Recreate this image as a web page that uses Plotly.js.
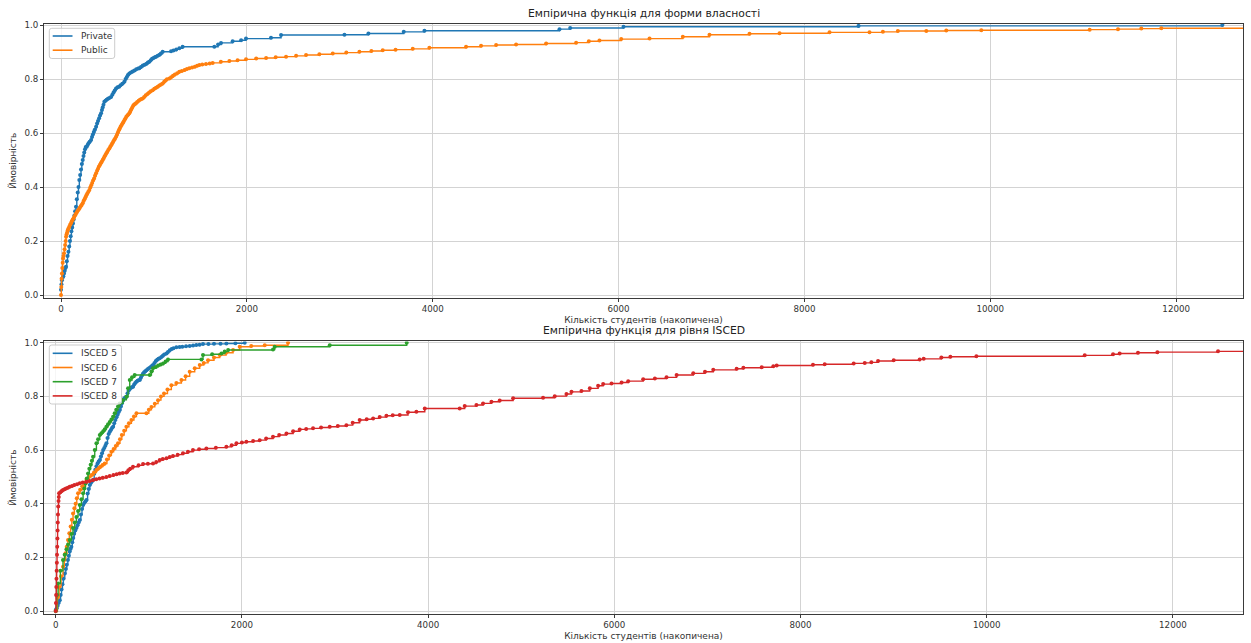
<!DOCTYPE html>
<html>
<head>
<meta charset="utf-8">
<script src="https://cdn.plot.ly/plotly-3.0.1.min.js"></script>
<style>html,body{margin:0;padding:0;background:#fff;}#chart{width:1251px;height:643px;}</style>
</head>
<body>
<div id="chart"></div>
<script>
// ---- Data (student counts, cumulative probability) ----
const privateX = [0, 5, 10, 18, 25, 32, 40, 48, 54, 62, 70, 80, 88, 96, 104, 112, 120, 128, 136, 144, 152, 161, 170, 180, 188, 197, 206, 215, 224, 233, 242, 250, 258, 266, 276, 286, 296, 308, 323, 333, 343, 353, 363, 377, 388, 398, 410, 420, 431, 440, 448, 457, 466, 478, 490, 505, 520, 538, 552, 565, 578, 592, 608, 625, 640, 660, 681, 695, 708, 720, 735, 752, 770, 790, 810, 830, 843, 860, 880, 900, 920, 935, 950, 965, 980, 995, 1010, 1022, 1040, 1060, 1075, 1094, 1184, 1210, 1240, 1273, 1309, 1650, 1690, 1722, 1847, 1938, 1991, 2260, 2368, 3050, 3308, 3688, 3911, 5364, 5479, 6053, 8582, 12497];
const privateP = [0.02, 0.04, 0.055, 0.065, 0.07, 0.08, 0.09, 0.1, 0.105, 0.125, 0.145, 0.16, 0.18, 0.2, 0.218, 0.236, 0.25, 0.265, 0.28, 0.295, 0.31, 0.327, 0.355, 0.38, 0.4, 0.426, 0.445, 0.465, 0.485, 0.5, 0.515, 0.528, 0.54, 0.548, 0.549, 0.556, 0.562, 0.568, 0.574, 0.585, 0.595, 0.604, 0.612, 0.623, 0.635, 0.645, 0.655, 0.665, 0.673, 0.685, 0.695, 0.705, 0.716, 0.72, 0.723, 0.727, 0.73, 0.734, 0.742, 0.75, 0.758, 0.765, 0.77, 0.772, 0.777, 0.783, 0.79, 0.8, 0.808, 0.815, 0.821, 0.824, 0.828, 0.832, 0.836, 0.839, 0.84, 0.845, 0.85, 0.853, 0.857, 0.861, 0.864, 0.87, 0.875, 0.878, 0.881, 0.883, 0.886, 0.89, 0.895, 0.901, 0.903, 0.906, 0.91, 0.914, 0.92, 0.92, 0.928, 0.934, 0.94, 0.944, 0.95, 0.953, 0.963, 0.964, 0.969, 0.975, 0.979, 0.985, 0.989, 0.994, 0.997, 1.0];

const publicX = [0, 3, 6, 10, 14, 18, 22, 27, 32, 38, 44, 50, 54, 60, 66, 72, 80, 89, 98, 107, 116, 125, 134, 143, 152, 162, 172, 182, 192, 202, 212, 222, 233, 243, 253, 263, 273, 283, 294, 305, 315, 325, 335, 345, 356, 366, 377, 388, 398, 408, 418, 428, 438, 448, 458, 468, 478, 488, 498, 508, 520, 530, 540, 550, 560, 570, 580, 592, 602, 612, 622, 632, 642, 652, 663, 673, 683, 693, 703, 714, 724, 735, 745, 755, 765, 775, 785, 796, 807, 820, 835, 850, 865, 878, 895, 912, 930, 948, 966, 986, 1004, 1022, 1040, 1058, 1076, 1094, 1110, 1125, 1140, 1166, 1185, 1205, 1225, 1250, 1273, 1300, 1330, 1355, 1381, 1410, 1440, 1465, 1489, 1520, 1560, 1600, 1632, 1720, 1812, 1900, 1991, 2100, 2207, 2310, 2422, 2530, 2637, 2780, 2924, 3070, 3211, 3340, 3462, 3600, 3785, 3964, 4359, 4520, 4682, 4897, 5220, 5543, 5680, 5794, 6028, 6333, 6691, 6978, 7409, 7732, 8270, 8700, 8844, 9005, 9311, 9526, 9903, 11069, 11374, 11625, 11840, 13500];
const publicP = [0.0, 0.03, 0.06, 0.08, 0.1, 0.12, 0.135, 0.145, 0.155, 0.17, 0.185, 0.2, 0.216, 0.225, 0.232, 0.24, 0.247, 0.253, 0.26, 0.266, 0.273, 0.279, 0.284, 0.29, 0.296, 0.302, 0.308, 0.313, 0.318, 0.323, 0.329, 0.334, 0.34, 0.348, 0.355, 0.362, 0.37, 0.376, 0.383, 0.389, 0.398, 0.407, 0.415, 0.424, 0.432, 0.442, 0.451, 0.46, 0.468, 0.476, 0.482, 0.488, 0.494, 0.5, 0.506, 0.513, 0.519, 0.525, 0.531, 0.537, 0.543, 0.549, 0.555, 0.561, 0.567, 0.573, 0.579, 0.586, 0.594, 0.602, 0.61, 0.617, 0.624, 0.63, 0.636, 0.642, 0.648, 0.654, 0.66, 0.665, 0.669, 0.673, 0.68, 0.687, 0.694, 0.7, 0.705, 0.708, 0.71, 0.715, 0.72, 0.723, 0.726, 0.728, 0.734, 0.74, 0.745, 0.75, 0.755, 0.759, 0.764, 0.768, 0.772, 0.776, 0.78, 0.784, 0.79, 0.795, 0.799, 0.802, 0.807, 0.812, 0.817, 0.822, 0.827, 0.83, 0.834, 0.837, 0.84, 0.843, 0.846, 0.849, 0.852, 0.854, 0.856, 0.858, 0.86, 0.864, 0.867, 0.87, 0.873, 0.876, 0.878, 0.881, 0.883, 0.886, 0.889, 0.892, 0.895, 0.898, 0.901, 0.904, 0.907, 0.909, 0.912, 0.916, 0.92, 0.923, 0.926, 0.928, 0.932, 0.935, 0.94, 0.943, 0.948, 0.95, 0.957, 0.964, 0.968, 0.97, 0.973, 0.973, 0.975, 0.978, 0.978, 0.98, 0.981, 0.983, 0.985, 0.987, 0.988, 0.99];

const isced5X = [0, 10, 20, 30, 43, 52, 62, 72, 82, 97, 108, 118, 130, 140, 150, 160, 168, 178, 188, 198, 210, 222, 234, 246, 258, 270, 282, 294, 306, 318, 330, 342, 354, 366, 378, 390, 401, 413, 425, 437, 449, 461, 473, 485, 497, 509, 521, 533, 544, 556, 568, 580, 592, 604, 616, 628, 640, 652, 664, 676, 687, 699, 711, 723, 735, 747, 759, 771, 783, 795, 807, 818, 830, 842, 854, 866, 878, 890, 902, 914, 926, 938, 950, 962, 974, 990, 1005, 1020, 1035, 1045, 1060, 1075, 1090, 1104, 1117, 1135, 1150, 1165, 1189, 1205, 1225, 1245, 1265, 1296, 1330, 1360, 1400, 1439, 1475, 1510, 1545, 1582, 1640, 1700, 1770, 1833, 1930, 2030];
const isced5P = [0.004, 0.01, 0.02, 0.03, 0.04, 0.06, 0.08, 0.1, 0.12, 0.14, 0.157, 0.173, 0.19, 0.206, 0.222, 0.232, 0.24, 0.256, 0.272, 0.288, 0.3, 0.31, 0.32, 0.33, 0.339, 0.36, 0.38, 0.395, 0.403, 0.408, 0.414, 0.438, 0.455, 0.47, 0.478, 0.484, 0.488, 0.512, 0.527, 0.54, 0.55, 0.557, 0.563, 0.576, 0.588, 0.6, 0.608, 0.616, 0.625, 0.645, 0.66, 0.668, 0.675, 0.682, 0.687, 0.7, 0.712, 0.722, 0.732, 0.742, 0.749, 0.762, 0.775, 0.785, 0.792, 0.796, 0.799, 0.812, 0.822, 0.828, 0.832, 0.834, 0.836, 0.844, 0.85, 0.855, 0.858, 0.86, 0.861, 0.87, 0.878, 0.885, 0.89, 0.894, 0.898, 0.902, 0.906, 0.91, 0.914, 0.917, 0.925, 0.932, 0.937, 0.94, 0.942, 0.947, 0.952, 0.956, 0.96, 0.966, 0.972, 0.977, 0.98, 0.983, 0.984, 0.985, 0.987, 0.988, 0.99, 0.992, 0.993, 0.995, 0.995, 0.996, 0.996, 0.997, 0.998, 1.0];

const isced6X = [0, 18, 36, 57, 78, 92, 105, 118, 132, 146, 160, 173, 186, 200, 213, 226, 240, 262, 285, 308, 330, 358, 385, 411, 437, 460, 480, 503, 526, 550, 574, 598, 622, 645, 669, 690, 710, 735, 759, 786, 813, 840, 867, 974, 1000, 1028, 1064, 1099, 1130, 1163, 1200, 1242, 1296, 1350, 1395, 1439, 1493, 1547, 1590, 1636, 1700, 1762, 1830, 1905, 1976, 2100, 2245, 2495];
const isced6P = [0.0, 0.05, 0.09, 0.13, 0.165, 0.19, 0.215, 0.24, 0.265, 0.29, 0.315, 0.34, 0.364, 0.383, 0.4, 0.42, 0.439, 0.452, 0.465, 0.477, 0.488, 0.5, 0.507, 0.516, 0.526, 0.532, 0.538, 0.544, 0.55, 0.565, 0.58, 0.594, 0.604, 0.615, 0.625, 0.64, 0.656, 0.672, 0.687, 0.7, 0.712, 0.725, 0.737, 0.737, 0.75, 0.761, 0.773, 0.786, 0.8, 0.811, 0.826, 0.842, 0.85, 0.861, 0.875, 0.892, 0.905, 0.917, 0.925, 0.935, 0.945, 0.954, 0.963, 0.973, 0.985, 0.988, 0.991, 1.0];

const isced7X = [0, 12, 25, 50, 78, 96, 115, 132, 150, 168, 185, 204, 222, 240, 258, 276, 294, 307, 320, 333, 347, 361, 375, 388, 401, 419, 437, 455, 473, 490, 510, 527, 544, 562, 580, 598, 616, 633, 650, 669, 687, 722, 759, 777, 795, 820, 848, 1010, 1028, 1045, 1075, 1100, 1127, 1153, 1180, 1206, 1565, 1582, 1680, 1780, 1815, 1852, 2334, 2352, 2943, 3770];
const isced7P = [0.0, 0.06, 0.103, 0.15, 0.19, 0.21, 0.23, 0.248, 0.265, 0.287, 0.31, 0.33, 0.351, 0.373, 0.395, 0.417, 0.439, 0.457, 0.475, 0.494, 0.513, 0.53, 0.545, 0.56, 0.575, 0.6, 0.625, 0.64, 0.656, 0.663, 0.67, 0.678, 0.687, 0.696, 0.705, 0.714, 0.724, 0.737, 0.75, 0.762, 0.774, 0.787, 0.799, 0.83, 0.861, 0.871, 0.88, 0.88, 0.893, 0.905, 0.91, 0.915, 0.919, 0.923, 0.93, 0.938, 0.938, 0.954, 0.957, 0.96, 0.967, 0.973, 0.975, 0.985, 0.991, 1.0];

const isced8X = [0, 2, 4, 6, 8, 10, 12, 14, 16, 18, 20, 22, 24, 27, 30, 33, 36, 50, 64, 78, 95, 110, 130, 150, 175, 200, 230, 258, 290, 330, 365, 401, 435, 470, 505, 544, 580, 620, 655, 687, 720, 759, 780, 800, 830, 890, 938, 990, 1045, 1080, 1117, 1150, 1190, 1225, 1260, 1310, 1367, 1420, 1474, 1540, 1618, 1720, 1833, 1890, 1941, 2000, 2048, 2120, 2191, 2260, 2334, 2400, 2478, 2550, 2621, 2690, 2764, 2850, 2943, 3030, 3122, 3190, 3265, 3340, 3409, 3480, 3552, 3620, 3695, 3784, 3874, 3964, 4339, 4393, 4519, 4590, 4680, 4769, 4913, 5235, 5360, 5486, 5540, 5647, 5737, 5826, 5880, 5970, 6078, 6149, 6310, 6436, 6561, 6669, 6848, 6974, 7063, 7314, 7386, 7583, 7708, 7744, 8134, 8260, 8571, 8690, 8761, 8833, 9001, 9280, 9323, 9513, 9610, 9889, 11053, 11357, 11428, 11625, 11833, 12485, 13500];
const isced8P = [0.0, 0.03, 0.06, 0.09, 0.12, 0.15, 0.18, 0.21, 0.24, 0.27, 0.3, 0.33, 0.36, 0.39, 0.41, 0.425, 0.439, 0.443, 0.447, 0.451, 0.454, 0.457, 0.46, 0.463, 0.466, 0.47, 0.473, 0.476, 0.479, 0.482, 0.485, 0.488, 0.491, 0.494, 0.497, 0.5, 0.503, 0.507, 0.51, 0.513, 0.515, 0.516, 0.525, 0.53, 0.538, 0.543, 0.548, 0.549, 0.55, 0.556, 0.563, 0.567, 0.57, 0.574, 0.578, 0.583, 0.588, 0.594, 0.6, 0.603, 0.606, 0.609, 0.612, 0.618, 0.625, 0.628, 0.631, 0.634, 0.637, 0.643, 0.65, 0.656, 0.662, 0.67, 0.677, 0.679, 0.681, 0.684, 0.687, 0.69, 0.693, 0.702, 0.712, 0.715, 0.718, 0.723, 0.728, 0.73, 0.731, 0.741, 0.743, 0.755, 0.755, 0.764, 0.768, 0.774, 0.78, 0.785, 0.793, 0.795, 0.801, 0.809, 0.817, 0.82, 0.83, 0.84, 0.846, 0.848, 0.852, 0.857, 0.864, 0.867, 0.871, 0.88, 0.886, 0.892, 0.899, 0.903, 0.907, 0.909, 0.912, 0.915, 0.918, 0.92, 0.923, 0.925, 0.927, 0.932, 0.935, 0.938, 0.94, 0.945, 0.948, 0.95, 0.953, 0.957, 0.96, 0.963, 0.965, 0.968, 0.97];

const xTickVals = [0, 2000, 4000, 6000, 8000, 10000, 12000];
const yTickVals = [0, 0.2, 0.4, 0.6, 0.8, 1.0];

const topSeries = [
  {name: 'Private', x: privateX, y: privateP, color: '#1f77b4'},
  {name: 'Public', x: publicX, y: publicP, color: '#ff7f0e'}
];
const bottomSeries = [
  {name: 'ISCED 5', x: isced5X, y: isced5P, color: '#1f77b4'},
  {name: 'ISCED 6', x: isced6X, y: isced6P, color: '#ff7f0e'},
  {name: 'ISCED 7', x: isced7X, y: isced7P, color: '#2ca02c'},
  {name: 'ISCED 8', x: isced8X, y: isced8P, color: '#d62728'}
];

const titleTop = 'Емпірична функція для форми власності';
const titleBottom = 'Емпірична функція для рівня ISCED';
const xTitle = 'Кількість студентів (накопичена)';
const yTitle = 'Ймовірність';

const FONT = 'DejaVu Sans, sans-serif';
const W = 1251, H = 643, ML = 44, MR = 8, MT = 24, MB = 29;
const PW = W - ML - MR, PH = H - MT - MB;
const px2x = px => (px - ML) / PW;
const py2y = py => (H - MB - py) / PH;

const traces = [];
function addSeries(list, xa, ya) {
  list.forEach(s => {
    traces.push({
      type: 'scatter', mode: 'lines+markers', x: s.x, y: s.y, xaxis: xa, yaxis: ya,
      line: {shape: 'hv', color: s.color, width: 1.4},
      marker: {color: s.color, size: 4},
      showlegend: false, name: s.name
    });
  });
}
addSeries(topSeries, 'x', 'y');
addSeries(bottomSeries, 'x2', 'y2');

// Custom matplotlib-style legends (box, line samples, labels)
const shapes = [];
const annotations = [];
function roundedBox(x0, y0, x1, y1, r) {
  // pixel coords -> paper path
  const X = v => px2x(v).toFixed(5), Y = v => py2y(v).toFixed(5);
  return `M ${X(x0 + r)} ${Y(y0)} L ${X(x1 - r)} ${Y(y0)} Q ${X(x1)} ${Y(y0)} ${X(x1)} ${Y(y0 + r)} L ${X(x1)} ${Y(y1 - r)} Q ${X(x1)} ${Y(y1)} ${X(x1 - r)} ${Y(y1)} L ${X(x0 + r)} ${Y(y1)} Q ${X(x0)} ${Y(y1)} ${X(x0)} ${Y(y1 - r)} L ${X(x0)} ${Y(y0 + r)} Q ${X(x0)} ${Y(y0)} ${X(x0 + r)} ${Y(y0)} Z`;
}
function addLegend(list, boxTop, boxBottom, boxRight, firstY) {
  shapes.push({type: 'path', xref: 'paper', yref: 'paper', path: roundedBox(49.3, boxTop, boxRight, boxBottom, 2.5),
    fillcolor: 'rgba(255,255,255,0.8)', line: {color: '#cccccc', width: 1}, layer: 'above'});
  list.forEach((s, i) => {
    const yy = firstY + i * 14.2;
    shapes.push({type: 'line', xref: 'paper', yref: 'paper', x0: px2x(52.7), x1: px2x(72.5), y0: py2y(yy), y1: py2y(yy),
      line: {color: s.color, width: 1.6}, layer: 'above'});
    annotations.push({text: s.name, xref: 'paper', yref: 'paper', x: px2x(79), y: py2y(yy), xanchor: 'left', yanchor: 'middle',
      showarrow: false, font: {family: FONT, size: 9, color: '#333'}});
  });
}
addLegend(topSeries, 28.3, 58.5, 114.7, 36);
addLegend(bottomSeries, 345, 404, 121.5, 353.3);

annotations.push(
  {text: titleTop, xref: 'paper', yref: 'paper', x: 0.5, y: 1, yshift: 2, xanchor: 'center', yanchor: 'bottom', showarrow: false,
    font: {family: FONT, size: 10.8, color: '#222'}},
  {text: titleBottom, xref: 'paper', yref: 'paper', x: 0.5, y: 0.462, yshift: 2, xanchor: 'center', yanchor: 'bottom', showarrow: false,
    font: {family: FONT, size: 10.8, color: '#222'}}
);

const axisCommon = {
  showgrid: true, gridcolor: '#d3d3d3', gridwidth: 1, zeroline: false,
  showline: true, linecolor: '#3a3a3a', linewidth: 1, mirror: true,
  ticks: 'outside', ticklen: 3, tickwidth: 1, tickcolor: '#3a3a3a',
  tickfont: {family: FONT, size: 8.7, color: '#333'}
};

const layout = {
  width: W, height: H,
  margin: {l: ML, r: MR, t: MT, b: MB},
  paper_bgcolor: '#fff', plot_bgcolor: '#fff',
  font: {family: FONT, color: '#333'},
  showlegend: false,
  xaxis: Object.assign({}, axisCommon, {domain: [0, 1], anchor: 'y', range: [-183, 12719], tickvals: xTickVals, tickformat: 'd',
    title: {text: xTitle, font: {family: FONT, size: 9, color: '#333'}, standoff: 3}}),
  yaxis: Object.assign({}, axisCommon, {domain: [0.536, 1], anchor: 'x', range: [-0.01, 1.004], tickvals: yTickVals, tickformat: '.1f',
    title: {text: yTitle, font: {family: FONT, size: 9, color: '#333'}, standoff: 6}}),
  xaxis2: Object.assign({}, axisCommon, {domain: [0, 1], anchor: 'y2', range: [-126, 12753], tickvals: xTickVals, tickformat: 'd',
    title: {text: xTitle, font: {family: FONT, size: 9, color: '#333'}, standoff: 3}}),
  yaxis2: Object.assign({}, axisCommon, {domain: [0, 0.462], anchor: 'x2', range: [-0.011, 1.005], tickvals: yTickVals, tickformat: '.1f',
    title: {text: yTitle, font: {family: FONT, size: 9, color: '#333'}, standoff: 6}}),
  shapes: shapes,
  annotations: annotations
};

Plotly.newPlot('chart', traces, layout, {displayModeBar: false, staticPlot: true});
</script>
</body>
</html>
